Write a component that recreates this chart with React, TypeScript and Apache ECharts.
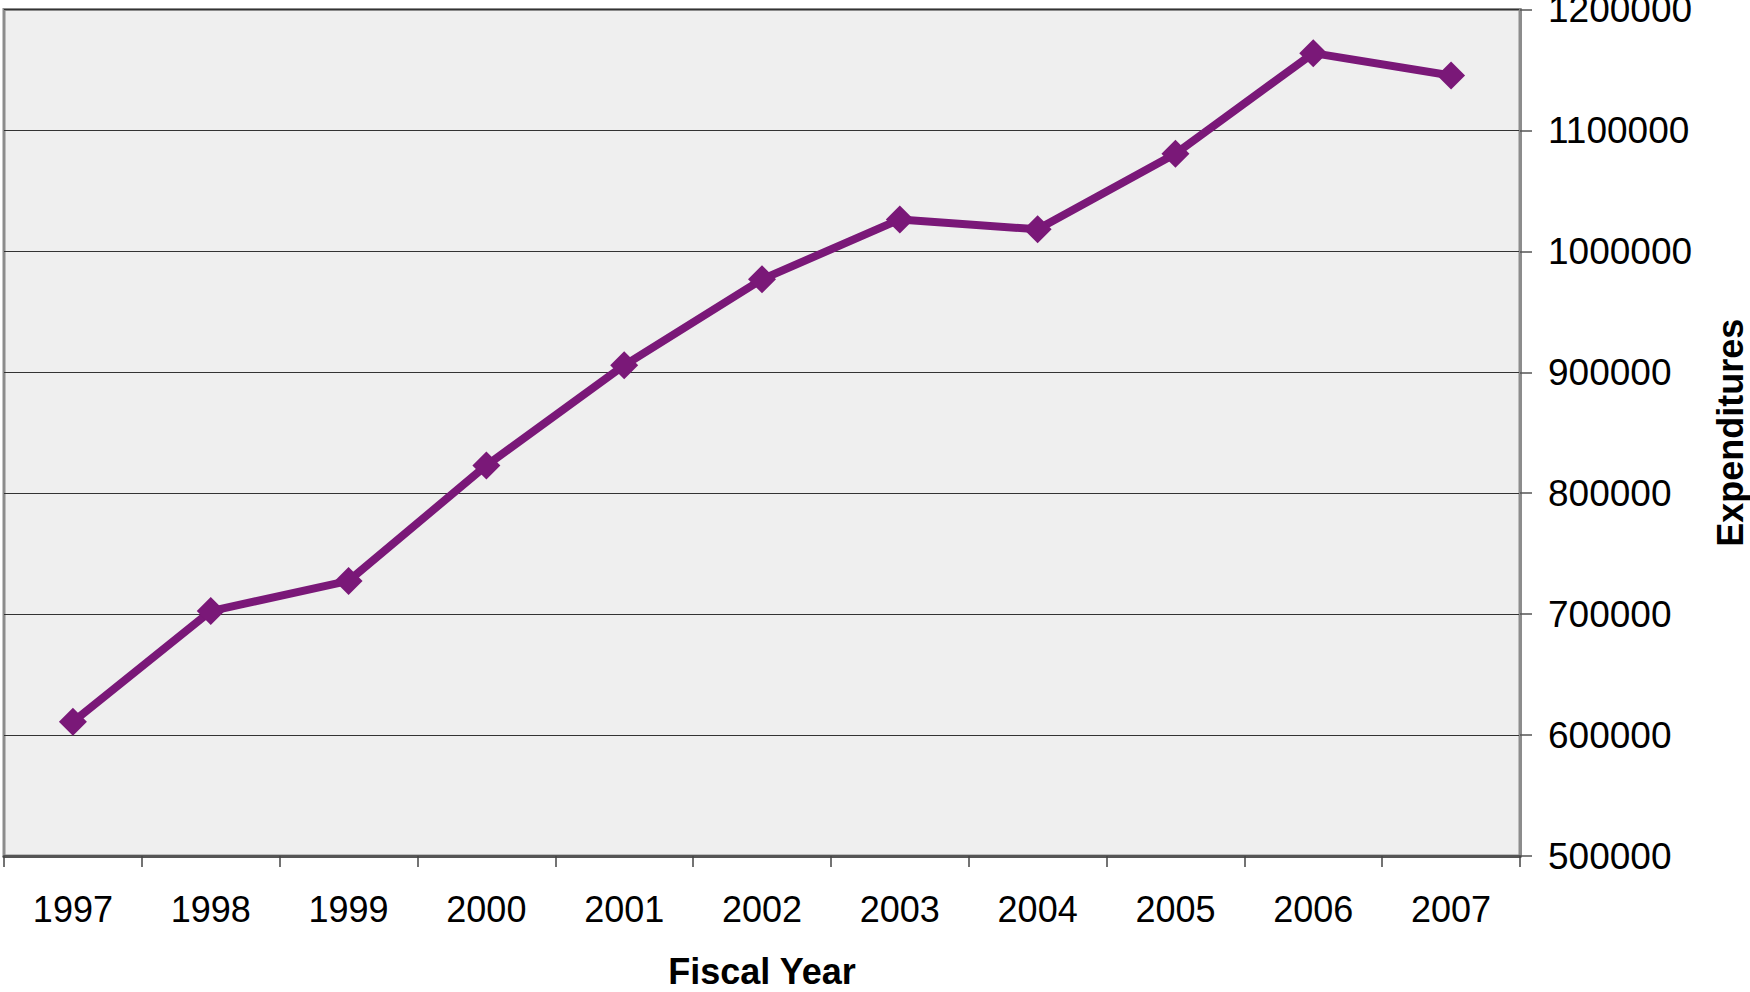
import React, { useEffect, useRef } from "react";
import * as echarts from "echarts";

// Fiscal years on the category axis
const years: string[] = [
  "1997", "1998", "1999", "2000", "2001", "2002",
  "2003", "2004", "2005", "2006", "2007",
];

// Expenditures per fiscal year
const expenditures: number[] = [
  611000, 702500, 727500, 823000, 905800, 976900,
  1026400, 1018200, 1080800, 1163900, 1145400,
];

// Value axis range
const yMin = 500000;
const yMax = 1200000;
const yStep = 100000;

const FONT = "'Liberation Sans', Arial, Helvetica, sans-serif";

export default function App() {
  const ref = useRef<HTMLDivElement>(null);

  useEffect(() => {
    if (!ref.current) return;
    const chart = echarts.init(ref.current, undefined, { renderer: "svg" });
    chart.setOption({
      animation: false,
      backgroundColor: "#ffffff",
      grid: {
        left: 4,
        right: 230,
        top: 9.5,
        bottom: 136,
        outerBoundsMode: "none",
        containLabel: false,
        show: true,
        backgroundColor: "#efefef",
        borderColor: "#8c8c8c",
        borderWidth: 3,
      },
      xAxis: {
        type: "category",
        data: years,
        boundaryGap: true,
        name: "Fiscal Year",
        nameLocation: "middle",
        nameGap: 97,
        nameTextStyle: {
          fontFamily: FONT,
          fontSize: 36,
          fontWeight: "bold",
          color: "#000",
        },
        axisLine: { show: true, lineStyle: { color: "#555", width: 3 } },
        axisTick: {
          show: true,
          alignWithLabel: false,
          length: 11,
          lineStyle: { color: "#444", width: 1.5 },
        },
        axisLabel: {
          fontFamily: FONT,
          fontSize: 36,
          color: "#000",
          margin: 35,
          interval: 0,
        },
        splitLine: { show: false },
      },
      yAxis: {
        type: "value",
        position: "right",
        min: yMin,
        max: yMax,
        interval: yStep,
        name: "Expenditures",
        nameLocation: "middle",
        nameRotate: 90,
        nameGap: 192,
        nameTextStyle: {
          fontFamily: FONT,
          fontSize: 36,
          fontWeight: "bold",
          color: "#000",
        },
        axisLine: { show: true, lineStyle: { color: "#8c8c8c", width: 3 } },
        axisTick: {
          show: true,
          inside: false,
          length: 12,
          lineStyle: { color: "#555", width: 1.5 },
        },
        axisLabel: {
          fontFamily: FONT,
          fontSize: 37,
          color: "#000",
          margin: 28,
          formatter: (v: number) => String(v),
        },
        splitLine: { show: true, lineStyle: { color: "#333", width: 1.2 } },
      },
      series: [
        {
          type: "line",
          data: expenditures,
          symbol: "diamond",
          symbolSize: 28,
          showAllSymbol: true,
          lineStyle: { color: "#7a1878", width: 8 },
          itemStyle: { color: "#7a1878" },
          z: 3,
        },
      ],
    });
    return () => chart.dispose();
  }, []);

  return (
    <div
      ref={ref}
      style={{ position: "absolute", left: 0, top: 0, width: 1750, height: 992 }}
    />
  );
}
